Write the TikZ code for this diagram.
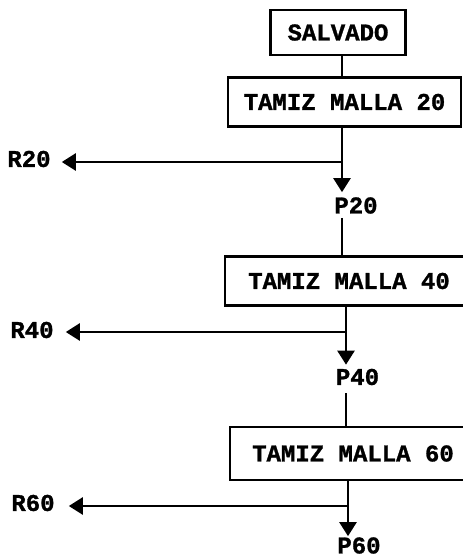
\documentclass[tikz,border=0pt]{standalone}
\usepackage{fontspec}
\newfontfamily\typefont[BoldFeatures={FakeBold=1.2}]{Liberation Mono}
\usepackage{tikz}
\usetikzlibrary{positioning,arrows.meta,calc}

\begin{document}
\begin{tikzpicture}[
    x=1pt, y=-1pt,
    every node/.style={font=\typefont\bfseries\fontsize{24}{28}\selectfont},
    sieve/.style={draw, line width=2.8pt, inner sep=0pt, minimum height=49pt},
    feed/.style={draw, line width=2.8pt, inner sep=0pt, minimum width=135pt,
                 minimum height=45pt},
    lbl/.style={inner sep=0pt},
    conn/.style={line width=2.5pt},
    arr/.style={line width=2.5pt, -{Triangle[length=14pt, width=17pt]}}
  ]
  \useasboundingbox (0,0) rectangle (463,560);

  % Feed
  \node[feed] (salvado) at (338,32.5) {SALVADO};

  % Sieves
  \node[sieve, minimum width=233pt] (t20) at (344.5,102) {TAMIZ MALLA 20};
  \node[sieve, minimum width=248pt] (t40) at (349,281) {TAMIZ MALLA 40};
  \node[sieve, minimum width=246pt, minimum height=53pt] (t60) at (353,453.5) {TAMIZ MALLA 60};

  % Passing fractions
  \node[lbl] (p20) at (356,205.5) {P20};
  \node[lbl] (p40) at (357.5,377) {P40};
  \node[lbl] (p60) at (359,545.5) {P60};

  % Retained fractions
  \node[lbl] (r20) at (29,159) {R20};
  \node[lbl] (r40) at (32,330) {R40};
  \node[lbl] (r60) at (33,503) {R60};

  % Branch points
  \coordinate (j20) at (342,162);
  \coordinate (j40) at (346,332);
  \coordinate (j60) at (348,506);

  % Flow lines
  \draw[conn] (salvado.south -| j20) -- (t20.north -| j20);
  \draw[arr] (t20.south -| j20) -- ($(p20.north -| j20)+(0,-5)$);
  \draw[arr, shorten >=11pt] (j20) -- (j20 -| r20.east);
  \draw[conn] ($(p20.south -| j20)+(0,4)$) -- (t40.north -| j20);

  \draw[arr] (t40.south -| j40) -- ($(p40.north -| j40)+(0,-4)$);
  \draw[arr, shorten >=12pt] (j40) -- (j40 -| r40.east);
  \draw[conn] ($(p40.south -| j40)+(0,8)$) -- (t60.north -| j40);

  \draw[arr] (t60.south -| j60) -- ($(p60.north -| j60)+(0,-1)$);
  \draw[arr, shorten >=14pt] (j60) -- (j60 -| r60.east);
\end{tikzpicture}
\end{document}
